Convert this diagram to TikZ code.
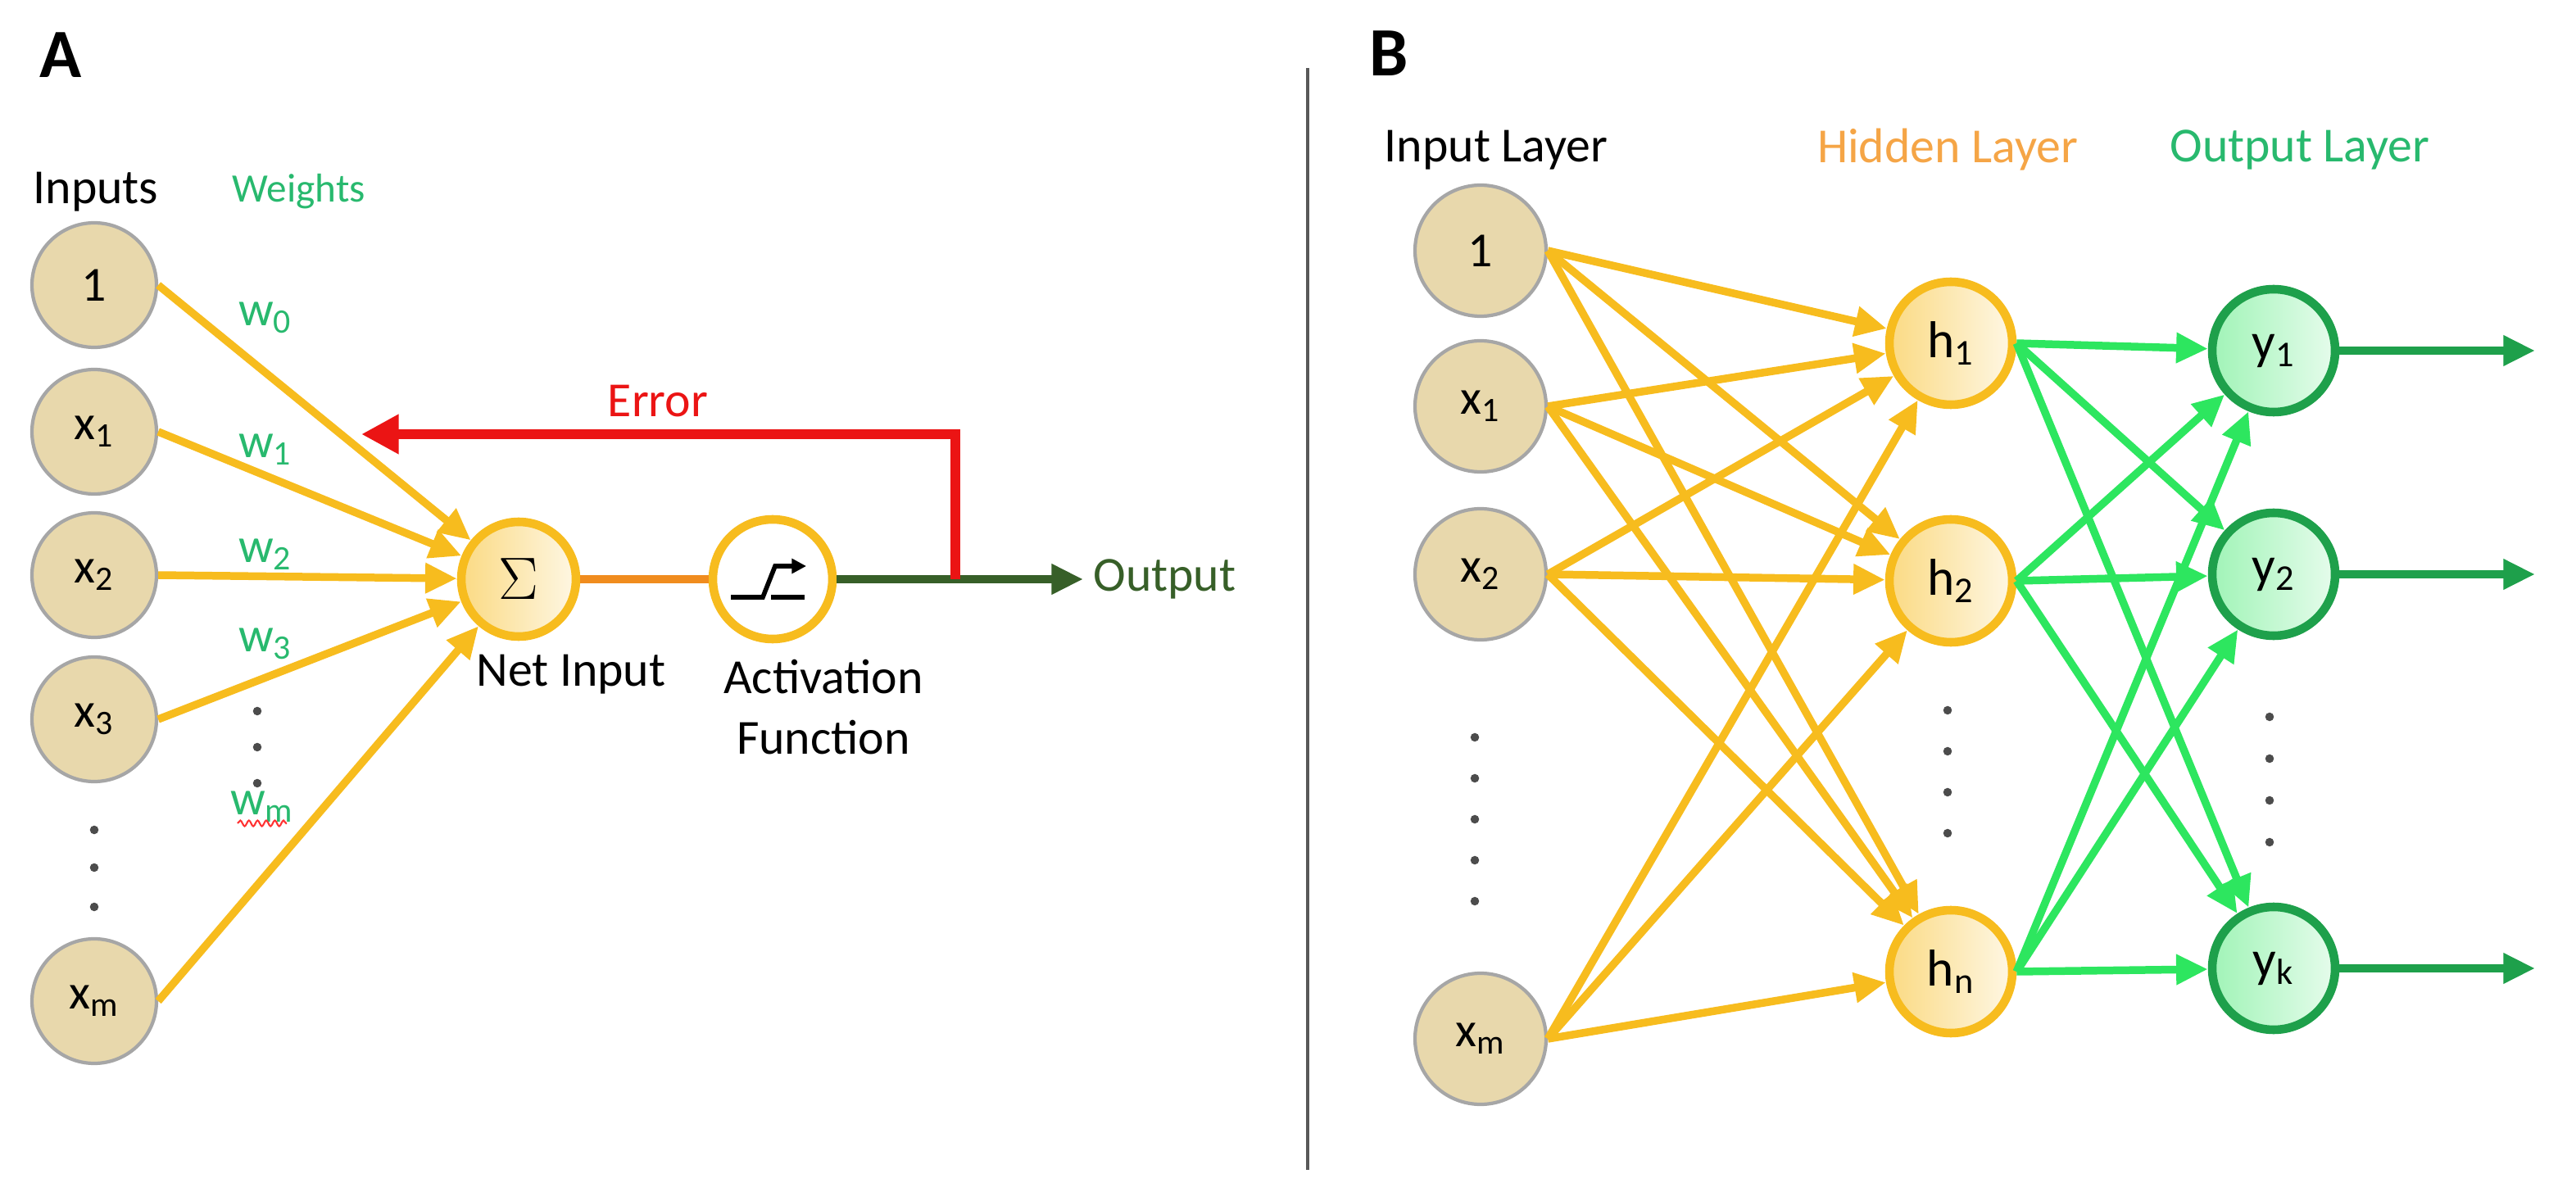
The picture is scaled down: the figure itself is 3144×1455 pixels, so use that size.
\documentclass[tikz,border=0pt]{standalone}
\usepackage{fontspec}
\setmainfont{Carlito}
\usetikzlibrary{arrows.meta,decorations.pathmorphing}
\definecolor{yel}{RGB}{247,188,30}
\definecolor{org}{RGB}{240,140,30}
\definecolor{horg}{RGB}{245,165,70}
\definecolor{wgreen}{RGB}{40,185,110}
\definecolor{lgreen}{RGB}{45,230,95}
\definecolor{dgreen}{RGB}{30,160,75}
\definecolor{ogreen}{RGB}{55,95,40}
\definecolor{beige}{RGB}{232,216,172}
\definecolor{errred}{RGB}{235,20,20}
\tikzset{
 inp/.style={circle,draw=gray!70,line width=1.2pt,fill=beige,minimum size=160*0.01cm,inner sep=0pt,font=\fontsize{17}{19}\selectfont},
 inpA/.style={inp,minimum size=152*0.01cm},
 hid/.style={circle,draw=yel,line width=3pt,left color=yel!55,right color=yel!12,minimum size=150*0.01cm,inner sep=0pt,font=\fontsize{18}{20}\selectfont},
 outn/.style={circle,draw=dgreen,line width=3pt,left color=lgreen!45,right color=lgreen!12,minimum size=150*0.01cm,inner sep=0pt,font=\fontsize{18}{20}\selectfont},
 ya/.style={draw=yel,line width=2.7pt,-{Triangle[length=11pt,width=10pt]}},
 ga/.style={draw=lgreen,line width=2.7pt,-{Triangle[length=11pt,width=10pt]}},
 oa/.style={draw=dgreen,line width=2.7pt,-{Triangle[length=11pt,width=10pt]}},
 lbl/.style={font=\fontsize{17}{19}\selectfont},
 wl/.style={lbl,text=wgreen},
 dot/.style={circle,fill=black!70,inner sep=0pt,minimum size=3pt},
}
\begin{document}
\begin{tikzpicture}[x=0.01cm,y=-0.01cm]
\useasboundingbox (0,0) rectangle (3144,1455);
% ---------- Panel A ----------
\node[font=\fontsize{24}{26}\selectfont\bfseries] (A) at (74,67) {A};
\node[lbl] (tin) at (117,234) {Inputs};
\node[lbl,text=wgreen,font=\fontsize{14}{16}\selectfont] (tw) at (365,234) {Weights};
\node[inpA] (a0) at (115,348) {1};
\node[inpA] (a1) at (115,527) {x\textsubscript{1}};
\node[inpA] (a2) at (115,702) {x\textsubscript{2}};
\node[inpA] (a3) at (115,878) {x\textsubscript{3}};
\node[inpA] (am) at (115,1222) {x\textsubscript{m}};
\foreach \y [count=\i] in {1013,1059,1107} \node[dot] (ad\i) at (115,\y) {};
\node[hid,minimum size=140*0.01cm,font=\fontsize{20}{22}\selectfont] (sig) at (633,707) {$\Sigma$};
\node[hid,fill=white,left color=white,right color=white,minimum size=146*0.01cm] (act) at (943,707) {};
\draw[ya] (a0.east) -- (sig);
\draw[ya] (a1.east) -- (sig);
\draw[ya] (a2.east) -- (sig);
\draw[ya] (a3.east) -- (sig);
\draw[ya] (am.east) -- (sig);
\node[wl] (w0) at (324,388) {w\textsubscript{0}};
\node[wl] (w1) at (324,549) {w\textsubscript{1}};
\node[wl] (w2) at (324,677) {w\textsubscript{2}};
\node[wl] (w3) at (324,786) {w\textsubscript{3}};
\foreach \y [count=\i] in {868,912,956} \node[dot] (wd\i) at (314,\y) {};
\node[wl] (wm) at (320,985) {w\textsubscript{m}};
\draw[red!80,line width=0.6pt,decorate,decoration={snake,amplitude=1pt,segment length=3pt}] (290,1005) -- (350,1005);
\draw[org,line width=3pt] (sig) -- (act);
% activation icon
\draw[black,line width=1.6pt] (892,729) -- (931,729) -- (946,691) -- (975,691);
\draw[black,-{Triangle[length=5pt,width=5pt]},line width=1.2pt] (970,691) -- (984,691);
\draw[black,line width=1.6pt] (941,729) -- (982,729);
\node[lbl,align=center] (tni) at (697,823) {Net Input};
\node[lbl,align=center,anchor=north] (taf) at (1005,793) {Activation\\[2pt]Function};
\coordinate (split) at (1166,707);
\coordinate (etop) at (1166,530);
\coordinate (eend) at (441,530);
\node[lbl,text=errred] (terr) at (803,490) {Error};
\node[lbl,text=ogreen,anchor=west] (tout) at (1322,707) {Output};
\draw[ogreen,line width=3pt,-{Triangle[length=11pt,width=10pt]}] (act) -- (tout.west);
\draw[errred,line width=3.5pt,-{Triangle[length=13pt,width=13pt]}] (split) -- (etop) -- (eend);
% divider
\draw[gray!70!black,line width=1pt] (1596,83) -- (1596,1428);
% ---------- Panel B ----------
\node[font=\fontsize{24}{26}\selectfont\bfseries] (B) at (1695,65) {B};
\node[lbl] (til) at (1826,183) {Input Layer};
\node[lbl,text=horg] (thl) at (2377,183) {Hidden Layer};
\node[lbl,text=wgreen] (tol) at (2807,183) {Output Layer};
\node[inp] (b0) at (1807,306) {1};
\node[inp] (b1) at (1807,496) {x\textsubscript{1}};
\node[inp] (b2) at (1807,701) {x\textsubscript{2}};
\node[inp] (bm) at (1807,1268) {x\textsubscript{m}};
\foreach \y [count=\i] in {900,950,1000,1050,1100} \node[dot] (bd\i) at (1800,\y) {};
\node[hid] (h1) at (2381,419) {h\textsubscript{1}};
\node[hid] (h2) at (2381,709) {h\textsubscript{2}};
\node[hid] (hn) at (2381,1186) {h\textsubscript{n}};
\foreach \y [count=\i] in {867,917,967,1017} \node[dot] (hd\i) at (2377,\y) {};
\node[outn] (y1) at (2775,428) {y\textsubscript{1}};
\node[outn] (y2) at (2775,701) {y\textsubscript{2}};
\node[outn] (yk) at (2775,1182) {y\textsubscript{k}};
\foreach \y [count=\i] in {875,926,977,1028} \node[dot] (yd\i) at (2770,\y) {};
\foreach \s in {b0,b1,b2,bm}
  \foreach \t in {h1,h2,hn}
    \draw[ya] (\s.east) -- (\t);
\foreach \s in {h1,h2,hn}
  \foreach \t in {y1,y2,yk}
    \draw[ga] (\s.east) -- (\t);
\coordinate (o1) at (3094,428);
\coordinate (o2) at (3094,701);
\coordinate (ok) at (3094,1182);
\draw[oa] (y1) -- (o1);
\draw[oa] (y2) -- (o2);
\draw[oa] (yk) -- (ok);
\end{tikzpicture}
\end{document}
